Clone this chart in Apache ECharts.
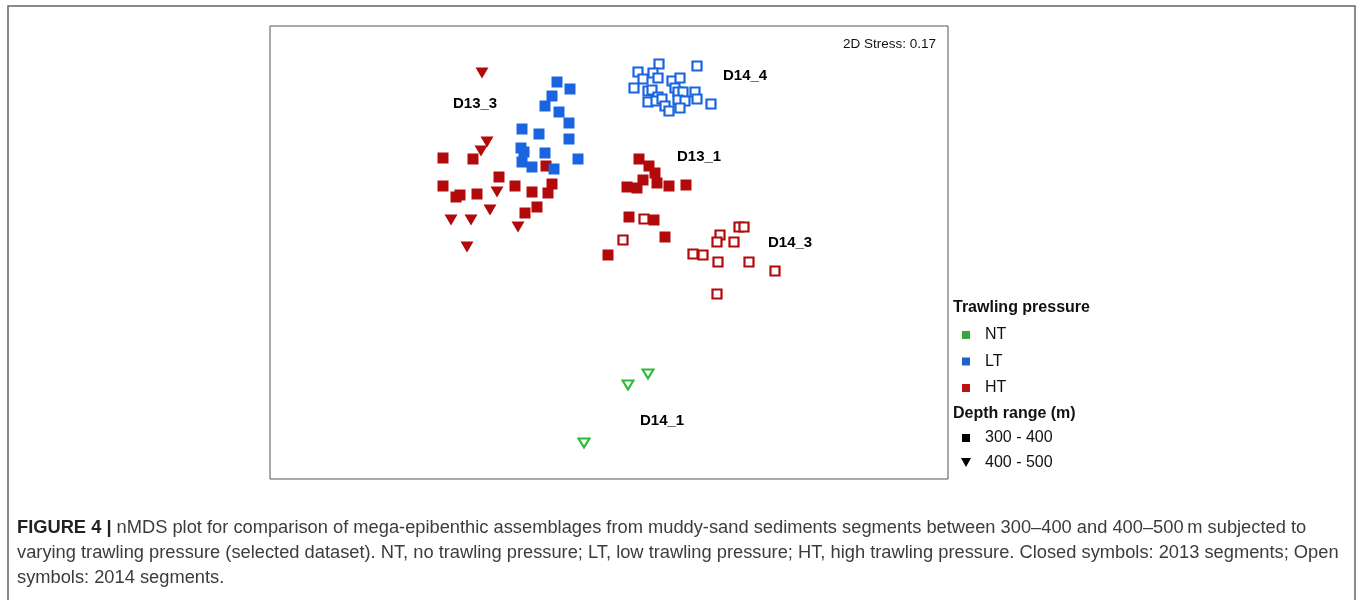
<!DOCTYPE html>
<html>
<head>
<meta charset="utf-8">
<script src="https://cdn.jsdelivr.net/npm/echarts@6/dist/echarts.min.js"></script>
<style>
  html, body { margin: 0; padding: 0; background: #fff; }
  #chart { width: 1357px; height: 600px; }
</style>
</head>
<body>
<div id="chart"></div>
<script>
// nMDS ordination coordinates (MDS1, MDS2) per segment

// High trawling pressure, 2013, 300-400 m (closed red squares)
const ht2013Shallow = [
  [-1.66, 0.95], [-1.36, 0.94], [-0.63, 0.87], [-1.10, 0.76], [-1.66, 0.67],
  [-0.94, 0.67], [-0.57, 0.69], [-1.53, 0.56], [-1.49, 0.58], [-1.32, 0.59],
  [-0.77, 0.61], [-0.61, 0.60], [-0.72, 0.46], [-0.84, 0.40],
  [0.30, 0.94], [0.40, 0.87], [0.46, 0.80], [0.34, 0.73], [0.18, 0.66],
  [0.28, 0.65], [0.48, 0.70], [0.60, 0.67], [0.77, 0.68], [0.20, 0.36],
  [0.45, 0.33], [0.56, 0.16], [-0.01, -0.02]
];

// High trawling pressure, 2013, 400-500 m (closed red triangles)
const ht2013Deep = [
  [-1.27, 1.80], [-1.22, 1.11], [-1.28, 1.02], [-1.12, 0.61], [-1.19, 0.43],
  [-1.58, 0.33], [-1.38, 0.33], [-0.91, 0.26], [-1.42, 0.06]
];

// High trawling pressure, 2014, 300-400 m (open red squares)
const ht2014Shallow = [
  [0.35, 0.34], [0.14, 0.13], [1.11, 0.18], [1.08, 0.11], [1.25, 0.11],
  [1.30, 0.26], [1.35, 0.26], [0.84, -0.01], [0.94, -0.02], [1.09, -0.09],
  [1.40, -0.09], [1.66, -0.18], [1.08, -0.41]
];

// Low trawling pressure, 2013, 300-400 m (closed blue squares)
const lt2013Shallow = [
  [-0.52, 1.71], [-0.39, 1.64], [-0.57, 1.57], [-0.64, 1.47], [-0.50, 1.41],
  [-0.40, 1.30], [-0.87, 1.24], [-0.70, 1.19], [-0.40, 1.14], [-0.88, 1.05],
  [-0.85, 1.01], [-0.64, 1.00], [-0.31, 0.94], [-0.87, 0.91], [-0.77, 0.86],
  [-0.55, 0.84]
];

// Low trawling pressure, 2014, 300-400 m (open blue squares)
const lt2014Shallow = [
  [0.50, 1.89], [0.88, 1.87], [0.29, 1.81], [0.44, 1.80], [0.34, 1.74],
  [0.49, 1.75], [0.63, 1.72], [0.71, 1.75], [0.25, 1.65], [0.39, 1.62],
  [0.43, 1.63], [0.66, 1.65], [0.69, 1.61], [0.74, 1.61], [0.86, 1.61],
  [0.49, 1.56], [0.39, 1.51], [0.47, 1.52], [0.53, 1.54], [0.56, 1.47],
  [0.60, 1.42], [0.69, 1.53], [0.76, 1.52], [0.71, 1.45], [0.88, 1.54],
  [1.02, 1.49]
];

// No trawling pressure, 2014, 400-500 m (open green triangles)
const nt2014Deep = [
  [0.39, -1.21], [0.19, -1.32], [-0.25, -1.90]
];

// Site/year group labels (anchor at left edge of text)
const groupLabels = [
  ['D13_3', -1.56, 1.49],
  ['D14_4', 1.14, 1.77],
  ['D13_1', 0.68, 0.96],
  ['D14_3', 1.59, 0.10],
  ['D14_1', 0.31, -1.68]
];

const stressText = '2D Stress: 0.17';
const pressureTitle = 'Trawling pressure';
const pressureItems = ['NT', 'LT', 'HT'];
const depthTitle = 'Depth range (m)';
const depthItems = ['300 - 400', '400 - 500'];
const captionLines = [
  '{b|FIGURE 4 |} nMDS plot for comparison of mega-epibenthic assemblages from muddy-sand sediments segments between 300\u2013400 and 400\u2013500\u2009m subjected to',
  'varying trawling pressure (selected dataset). NT, no trawling pressure; LT, low trawling pressure; HT, high trawling pressure. Closed symbols: 2013 segments; Open',
  'symbols: 2014 segments.'
];

const RED = '#b20a0a';
const BLUE = '#1b64e0';
const GREEN = '#2bbb3a';
const FONT = '"Liberation Sans", Arial, Helvetica, sans-serif';

const chart = echarts.init(document.getElementById('chart'), null, { renderer: 'canvas' });

function closedSquare(name, data, color) {
  return { name, type: 'scatter', data, symbol: 'rect', symbolSize: 11,
    itemStyle: { color, opacity: 1 }, silent: true };
}
function openSquare(name, data, color) {
  return { name, type: 'scatter', data, symbol: 'rect', symbolSize: 9,
    itemStyle: { color: '#fff', borderColor: color, borderWidth: 2.2, opacity: 1 }, silent: true };
}
function closedTriangle(name, data, color) {
  return { name, type: 'scatter', data, symbol: 'triangle', symbolSize: [13, 11], symbolRotate: 180,
    itemStyle: { color, opacity: 1 }, silent: true };
}
function openTriangle(name, data, color) {
  return { name, type: 'scatter', data, symbol: 'triangle', symbolSize: [11, 9], symbolRotate: 180,
    itemStyle: { color: '#fff', borderColor: color, borderWidth: 2, opacity: 1 }, silent: true };
}

// Legend drawn as graphic elements (two headed blocks)
const legendX = 953, markX = 966, textX = 985;
const legendGraphics = [];
legendGraphics.push({ type: 'text', x: legendX, y: 308,
  style: { text: pressureTitle, font: 'bold 16px ' + FONT, fill: '#111', verticalAlign: 'middle', textVerticalAlign: 'middle' } });
const pressureColors = ['#3aa63a', '#1b64d0', '#b81414'];
pressureItems.forEach((t, i) => {
  const y = 335 + i * 26.5;
  legendGraphics.push({ type: 'rect', shape: { x: markX - 4, y: y - 4, width: 8, height: 8 },
    style: { fill: pressureColors[i] } });
  legendGraphics.push({ type: 'text', x: textX, y: y,
    style: { text: t, font: '16px ' + FONT, fill: '#111', textVerticalAlign: 'middle', verticalAlign: 'middle' } });
});
legendGraphics.push({ type: 'text', x: legendX, y: 414,
  style: { text: depthTitle, font: 'bold 16px ' + FONT, fill: '#111', verticalAlign: 'middle', textVerticalAlign: 'middle' } });
depthItems.forEach((t, i) => {
  const y = 438 + i * 25;
  if (i === 0) {
    legendGraphics.push({ type: 'rect', shape: { x: markX - 4, y: y - 4, width: 8, height: 8 },
      style: { fill: '#000' } });
  } else {
    legendGraphics.push({ type: 'polygon', shape: { points: [[markX - 5, y - 5], [markX + 5, y - 5], [markX, y + 4]] },
      style: { fill: '#000' } });
  }
  legendGraphics.push({ type: 'text', x: textX, y: y,
    style: { text: t, font: '16px ' + FONT, fill: '#111', textVerticalAlign: 'middle', verticalAlign: 'middle' } });
});

const captionGraphics = captionLines.map((line, i) => ({
  type: 'text', x: 17, y: 528 + i * 25,
  style: {
    text: line, font: '18.3px ' + FONT, fill: '#3c3c3c', verticalAlign: 'middle', textVerticalAlign: 'middle',
    rich: { b: { fontWeight: 'bold', fontSize: 18.3, fontFamily: FONT, fill: '#222', color: '#222' } }
  }
}));

const option = {
  backgroundColor: '#fff',
  animation: false,
  grid: { left: 270, top: 26, width: 678, height: 453, show: true, borderColor: '#555', borderWidth: 1, backgroundColor: 'transparent' },
  xAxis: { type: 'value', min: -3.39, max: 3.39, show: false },
  yAxis: { type: 'value', min: -2.26, max: 2.27, show: false },
  graphic: [
    { type: 'rect', shape: { x: 8, y: 6, width: 1347, height: 620 },
      style: { fill: 'none', stroke: '#666', lineWidth: 1.5 }, silent: true },
    { type: 'text', x: 936, y: 44,
      style: { text: stressText, font: '13.5px ' + FONT, fill: '#111', align: 'right', textAlign: 'right', verticalAlign: 'middle', textVerticalAlign: 'middle' } },
    ...legendGraphics,
    ...captionGraphics
  ],
  series: [
    closedSquare('HT 2013 300-400', ht2013Shallow, RED),
    closedTriangle('HT 2013 400-500', ht2013Deep, RED),
    openSquare('HT 2014 300-400', ht2014Shallow, RED),
    closedSquare('LT 2013 300-400', lt2013Shallow, BLUE),
    openSquare('LT 2014 300-400', lt2014Shallow, BLUE),
    openTriangle('NT 2014 400-500', nt2014Deep, GREEN),
    {
      name: 'labels', type: 'scatter', silent: true,
      data: groupLabels.map(d => ({ name: d[0], value: [d[1], d[2]] })),
      symbolSize: 0,
      itemStyle: { opacity: 1 },
      label: { show: true, position: 'right', distance: 0, formatter: '{b}',
        fontFamily: FONT, fontWeight: 'bold', fontSize: 15, color: '#000', opacity: 1 }
    }
  ]
};

chart.setOption(option);
</script>
</body>
</html>
